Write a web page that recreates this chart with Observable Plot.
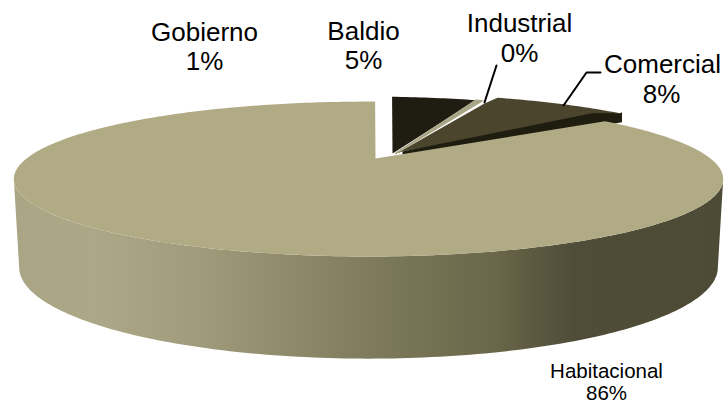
<!DOCTYPE html>
<html><head><meta charset="utf-8">
<style>html,body{margin:0;padding:0;background:#fff}svg{display:block}</style>
<script src="https://cdn.jsdelivr.net/npm/d3@7"></script>
<script src="https://cdn.jsdelivr.net/npm/@observablehq/plot@0.6"></script>
</head><body><div id="c"></div>
<script>
// Data
const categories = ["Baldio","Industrial","Comercial","Habitacional","Gobierno"];
const shares = [5, 0.4, 8, 85.6, 1];
const labels = ["5%","0%","8%","86%","1%"];

// Layout of the 3D pie
const view = {k:0.265, R:342, A:72, rotate:5, tangent:105.4};
const slices = {
  Baldio:{ax:392, ay:153, cx:368, cy:153, top:"#1f1d12"},
  Industrial:{ax:395, ay:153, cx:368, cy:153, top:"#a9a586"},
  Comercial:{ax:402, ay:151, cx:383, cy:150, top:"#4b452d", wall:"#1f1c10", shoulder:{x:484,y:103}},
  Habitacional:{ax:375, ay:158, cx:368, cy:158, top:"#b1ab85"}
};
const labelPos = [
  {t:"Baldio", x:363, y:31},{t:"5%", x:363, y:60},
  {t:"Industrial", x:519, y:23},{t:"0%", x:519, y:53},
  {t:"Comercial", x:662, y:64},{t:"8%", x:661, y:94},
  {t:"Gobierno", x:204, y:32},{t:"1%", x:204, y:61}
];
const smallPos = [{t:"Habitacional", x:606, y:371},{t:"86%", x:606, y:392.5}];
const leaders = [
  [{x:496,y:65},{x:484,y:102}],
  [{x:600,y:72},{x:586,y:72},{x:563,y:105}]
];

const rad = d => d*Math.PI/180;
function pt(deg, s){
  const X=Math.sin(rad(deg)), Y=Math.cos(rad(deg)), w=1/(1+view.k*Y);
  return {x:s.cx+view.R*X*w, y:s.cy-view.A*Y*w};
}
function arc(a0,a1,s){
  const n=Math.max(2,Math.ceil(Math.abs(a1-a0))), out=[];
  for(let i=0;i<=n;i++) out.push(pt(a0+(a1-a0)*i/n,s));
  return out;
}
// the lower rim of the cylinder
const lower = p => ({x:368+(p.x-368)*0.985, y:265+(p.y-177)*92/78});
let acc=0;
const spans = categories.map((c,i)=>{const a0=acc*3.6+view.rotate; acc+=shares[i]; return {c,a0,a1:acc*3.6+view.rotate};});
const byName = Object.fromEntries(spans.map(d=>[d.c,d]));
const apex = s=>({x:s.ax,y:s.ay});
const topPoly = d=>{const s=slices[d.c]; return [apex(s),...(s.shoulder?[{x:s.ax-6,y:s.ay+2},s.shoulder]:[]),...arc(d.a0,d.a1,s),apex(s)];};

const poly = (pts,fill)=>Plot.line(pts,{x:"x",y:"y",fill,stroke:"none"});

// cut face of the Comercial slice
const com = slices.Comercial, comEnd = pt(byName.Comercial.a1,com);
const comFace = [apex(com),{x:comEnd.x-28,y:comEnd.y},comEnd,{x:comEnd.x+2,y:comEnd.y-1},{x:comEnd.x+2,y:comEnd.y+9},{x:comEnd.x-15,y:comEnd.y+12},{x:com.ax,y:com.ay+5},apex(com)];

// outer wall of the Habitacional slice
const hab = slices.Habitacional;
const frontTop = arc(view.tangent,360-view.tangent,hab);
const wall = [...frontTop,...frontTop.slice().reverse().map(lower)];

const gradStops=[[0,"#aaa685"],[0.12,"#aca887"],[0.26,"#a09c7b"],[0.40,"#8c8868"],[0.54,"#7a7658"],[0.68,"#6a6649"],[0.79,"#4f4c38"],[1,"#4d4a36"]];
const defs=()=>{
  const ns="http://www.w3.org/2000/svg";
  const d=document.createElementNS(ns,"defs"), g=document.createElementNS(ns,"linearGradient");
  g.setAttribute("id","sideGrad");g.setAttribute("gradientUnits","userSpaceOnUse");
  g.setAttribute("x1",13);g.setAttribute("x2",723);g.setAttribute("y1",0);g.setAttribute("y2",0);
  gradStops.forEach(([o,c])=>{const st=document.createElementNS(ns,"stop");st.setAttribute("offset",o);st.setAttribute("stop-color",c);g.appendChild(st);});
  d.appendChild(g);return d;
};
const plot = Plot.plot({
  width:727,height:404,margin:0,
  x:{domain:[0,727],axis:null},y:{domain:[404,0],axis:null},
  style:{background:"#fff",fontFamily:"'Liberation Sans',Arial,sans-serif"},
  marks:[
    defs,
    poly(topPoly(byName.Baldio),slices.Baldio.top),
    poly(topPoly(byName.Comercial),com.top),
    poly(comFace,com.wall),
    Plot.line(topPoly(byName.Industrial),{x:"x",y:"y",fill:slices.Industrial.top,stroke:slices.Industrial.top,strokeWidth:1.5}),
    poly(wall,"url(#sideGrad)"),
    poly(topPoly(byName.Habitacional),hab.top),
    ...leaders.map(l=>Plot.line(l,{x:"x",y:"y",stroke:"#000",strokeWidth:2})),
    Plot.text(labelPos,{x:"x",y:"y",text:"t",fontSize:26,fill:"#000"}),
    Plot.text(smallPos,{x:"x",y:"y",text:"t",fontSize:20.5,fill:"#000"})
  ]
});
document.getElementById("c").appendChild(plot);
</script></body></html>
